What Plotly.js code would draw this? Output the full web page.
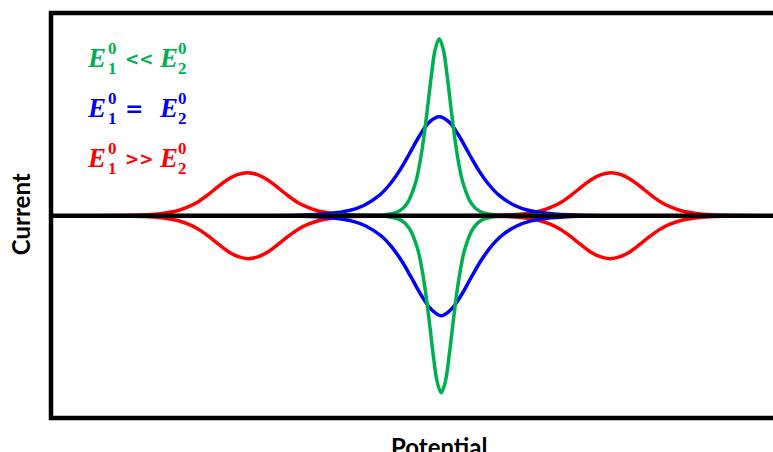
<!DOCTYPE html>
<html>
<head>
<meta charset="utf-8">
<script src="https://cdn.plot.ly/plotly-3.0.1.min.js"></script>
<style>
html,body{margin:0;padding:0;overflow:hidden;background:#fff;width:773px;height:452px;}
#chart{width:800px;height:470px;}
</style>
</head>
<body>
<div id="chart"></div>
<script>
// Potential (arbitrary mV, 0 = centre peak) and current (arbitrary units)
const greenUpX = [-141,-57,-41,-33,-25,-21,-17,-13,-9,-5,-1,3,7,11,15,19,23,31,39,55,139];
const greenUpY = [0,0.6,4.7,12.5,32.0,49.6,74.3,105.6,139.2,166.4,177,166.4,139.2,105.6,74.3,49.6,32.0,12.5,4.7,0.6,0];
const greenDnX = [-139,-55,-39,-31,-23,-19,-15,-11,-7,-3,1,5,9,13,17,21,25,33,41,57,141];
const greenDnY = [0,-0.6,-4.7,-12.5,-32.0,-49.6,-74.3,-105.6,-139.2,-166.4,-177,-166.4,-139.2,-105.6,-74.3,-49.6,-32.0,-12.5,-4.7,-0.6,0];

const blueUpX = [-200,-141,-111,-91,-76,-61,-51,-41,-31,-21,-11,-1,9,19,29,39,49,59,74,89,109,139,200];
const blueUpY = [0,0.5,2.1,5.2,10.5,20.3,30.7,44.6,61.7,79.5,93.6,99,93.6,79.5,61.7,44.6,30.7,20.3,10.5,5.2,2.1,0.5,0];
const blueDnX = [-200,-139,-109,-89,-74,-59,-49,-39,-29,-19,-9,1,11,21,31,41,51,61,76,91,111,141,200];
const blueDnY = [0,-0.5,-2.1,-5.2,-10.5,-20.3,-30.7,-44.6,-61.7,-79.5,-93.6,-100,-93.6,-79.5,-61.7,-44.6,-30.7,-20.3,-10.5,-5.2,-2.1,-0.5,0];

const redUpX = [-400,-363,-323,-293,-278,-263,-253,-243,-233,-223,-213,-203,-193,-183,-173,-163,-153,-143,-133,-123,-108,-93,-63,
  -10,41,71,86,101,111,121,131,141,151,161,171,181,191,201,211,221,231,241,256,271,301,341,370];
const redUpY = [0,0,0.2,1,2.3,5,8.5,13.5,20.5,28.5,36,41,43,41,36,28.5,20.5,13.5,8.5,5,2.3,1,0.2,
  0,0.2,1,2.3,5,8.5,13.5,20.5,28.5,36,41,43,41,36,28.5,20.5,13.5,8.5,5,2.3,1,0.2,0,0];
const redDnX = [-400,-362,-322,-292,-277,-262,-252,-242,-232,-222,-212,-202,-192,-182,-172,-162,-152,-142,-132,-122,-107,-92,-62,
  -10,40,70,85,100,110,120,130,140,150,160,170,180,190,200,210,220,230,240,255,270,300,340,370];
const redDnY = [0,0,-0.2,-1,-2.3,-5,-8.5,-13.5,-20.5,-28.5,-36,-41,-43,-41,-36,-28.5,-20.5,-13.5,-8.5,-5,-2.3,-1,-0.2,
  0,-0.2,-1,-2.3,-5,-8.5,-13.5,-20.5,-28.5,-36,-41,-43,-41,-36,-28.5,-20.5,-13.5,-8.5,-5,-2.3,-1,-0.2,0,0];

const zeroX = [-400, 400];
const zeroY = [0, 0];

const GREEN = '#00B050', BLUE = '#0000FF', RED = '#FF0000';
const LW = 3.5;

function tr(x, y, c, w) {
  return {x: x, y: y, type: 'scatter', mode: 'lines',
    line: {color: c, width: w, shape: 'spline', smoothing: 1}, hoverinfo: 'skip', showlegend: false};
}

const data = [
  tr(redUpX, redUpY, RED, LW), tr(redDnX, redDnY, RED, LW),
  tr(blueUpX, blueUpY, BLUE, LW), tr(blueDnX, blueDnY, BLUE, LW),
  tr(greenUpX, greenUpY, GREEN, LW), tr(greenDnX, greenDnY, GREEN, LW),
  {x: zeroX, y: zeroY, type: 'scatter', mode: 'lines', line: {color: '#000', width: 4.5}, hoverinfo: 'skip', showlegend: false}
];

// plot geometry helpers (pixel -> paper) for text placement
const L = 50.5, T = 13.3, PW = 749.5, PH = 405;
const px = v => (v - L) / PW;
const py = v => (T + PH - v) / PH;

const annotations = [];
function add(text, x, y, size, color, family) {
  annotations.push({text: text, xref: 'paper', yref: 'paper', x: px(x), y: py(y),
    xanchor: 'left', yanchor: 'middle', showarrow: false, borderpad: 0,
    font: {size: size, color: color, family: family}});
}
const SERIF = 'Liberation Serif';
const SANS = 'DejaVu Sans';
const rows = [
  {dy: 0, op: '&lt;&lt;', opSize: 17, opX: 124, color: GREEN},
  {dy: 50, op: '=', opSize: 22, opX: 124, color: BLUE},
  {dy: 100, op: '&gt;&gt;', opSize: 17, opX: 124, color: RED}
];
rows.forEach(r => {
  add('<b><i>E</i></b>', 86, 58 + r.dy, 27, r.color, SERIF);
  add('<b>0</b>', 107, 49 + r.dy, 17, r.color, SERIF);
  add('<b>1</b>', 107, 69 + r.dy, 17, r.color, SERIF);
  add('<b>' + r.op + '</b>', r.opX, 59 + r.dy, r.opSize, r.color, SANS);
  add('<b><i>E</i></b>', 158, 58 + r.dy, 27, r.color, SERIF);
  add('<b>0</b>', 177, 49 + r.dy, 17, r.color, SERIF);
  add('<b>2</b>', 177, 69 + r.dy, 17, r.color, SERIF);
});
annotations.push({text: '<b>Current</b>', xref: 'paper', yref: 'paper', x: px(20), y: py(215),
  xanchor: 'center', yanchor: 'middle', textangle: -90, showarrow: false,
  font: {size: 24, color: '#000', family: 'Lato'}});
annotations.push({text: '<b>Potential</b>', xref: 'paper', yref: 'paper', x: px(439), y: py(447),
  xanchor: 'center', yanchor: 'middle', showarrow: false,
  font: {size: 24, color: '#000', family: 'Lato'}});

const layout = {
  width: 800, height: 470,
  margin: {l: L, r: 0, t: T, b: 470 - T - PH, pad: 0},
  paper_bgcolor: '#fff', plot_bgcolor: '#fff',
  xaxis: {range: [-389.5, 360], visible: false, fixedrange: true},
  yaxis: {range: [-202.3, 202.7], visible: false, fixedrange: true},
  showlegend: false,
  shapes: [{type: 'rect', xref: 'paper', yref: 'paper', x0: 0, x1: 1, y0: 0, y1: 1,
    line: {color: '#000', width: 4.5}, layer: 'above'}],
  annotations: annotations
};

Plotly.newPlot('chart', data, layout, {displayModeBar: false, staticPlot: true});
</script>
</body>
</html>
